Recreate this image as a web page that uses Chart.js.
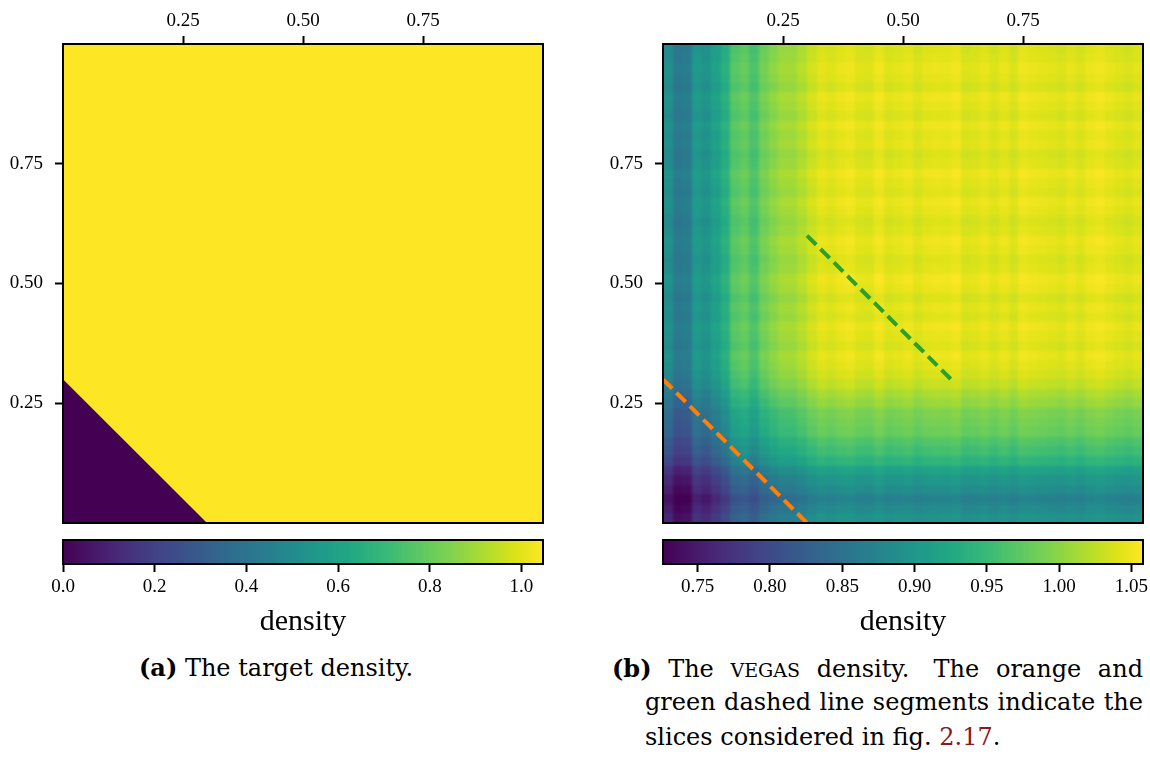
<!DOCTYPE html>
<html>
<head>
<meta charset="utf-8">
<title>VEGAS density</title>
<script src="https://cdn.jsdelivr.net/npm/chart.js@4.4.1/dist/chart.umd.min.js"></script>
<style>
  body { margin: 0; background: #fff; width: 1150px; height: 761px; position: relative; overflow: hidden; }
  canvas { position: absolute; }
  .cap { position: absolute; font-family: "DejaVu Serif", serif; font-size: 24px; line-height: 35px; color: #000; white-space: nowrap; }
  .line { display: flex; justify-content: space-between; align-items: baseline; height: 35px; }
  .sc { font-variant: small-caps; font-size: 1.15em; }
  .ref { color: #8b1a1a; }
</style>
</head>
<body>
<canvas id="mapA" width="550" height="530" style="left:0;top:0"></canvas>
<canvas id="mapB" width="550" height="530" style="left:600px;top:0"></canvas>
<canvas id="barA" width="550" height="120" style="left:0;top:530px"></canvas>
<canvas id="barB" width="550" height="120" style="left:600px;top:530px"></canvas>

<div class="cap" style="left:139px;top:650px"><b>(a)</b> The target density.</div>
<div class="cap line" style="left:612px;top:650px;width:531px">
  <span><b>(b)</b></span><span>The</span><span class="sc">vegas</span><span>density.&nbsp;</span><span>The</span><span>orange</span><span>and</span>
</div>
<div class="cap line" style="left:645px;top:685px;width:498px">
  <span>green</span><span>dashed</span><span>line</span><span>segments</span><span>indicate</span><span>the</span>
</div>
<div class="cap" style="left:645px;top:720px">slices considered in fig. <span class="ref">2.17</span>.</div>

<script>
// ---- axes ----
const axisTicks = [0.25, 0.5, 0.75];
const barTicksA = [0, 0.2, 0.4, 0.6, 0.8, 1.0];
const barTicksB = [0.75, 0.8, 0.85, 0.9, 0.95, 1.0, 1.05];
const rangeA = [0, 1.047];
const rangeB = [0.726, 1.058];

// ---- target density: 0 below the cut x + y = 0.3, normalised constant above ----
const targetCutX = [0, 0.3];
const targetCutY = [0.3, 0];
const targetLow = 0;
const targetHigh = 1.047;

// ---- vegas grid: per-bin marginal densities, 50 bins on [0, 1] ----
const vegasX = [
  0.875, 0.848, 0.852, 0.89, 0.88, 0.9, 0.92, 0.955, 0.963, 0.948,
  0.972, 0.985, 0.995, 0.995, 1.005, 1.018, 1.028, 1.024, 1.03, 1.033,
  1.025, 1.024, 1.034, 1.024, 1.027, 1.031, 1.023, 1.029, 1.031, 1.03,
  1.034, 1.023, 1.025, 1.03, 1.023, 1.03, 1.022, 1.033, 1.03, 1.028,
  1.026, 1.023, 1.029, 1.023, 1.031, 1.034, 1.029, 1.025, 1.022, 1.027
];
const vegasY = [
  0.87, 0.86, 0.848, 0.864, 0.875, 0.89, 0.915, 0.93, 0.94, 0.955,
  0.96, 0.965, 0.978, 0.988, 1.0, 1.008, 1.014, 1.019, 1.011, 1.016,
  1.02, 1.012, 1.017, 1.01, 1.018, 1.022, 1.014, 1.011, 1.017, 1.02,
  1.013, 1.01, 1.016, 1.02, 1.012, 1.016, 1.021, 1.013, 1.01, 1.017,
  1.014, 1.02, 1.011, 1.016, 1.02, 1.01, 1.015, 1.018, 1.013, 1.011
];

// ---- slices marked on the vegas panel ----
const orangeX = [0, 0.3];
const orangeY = [0.3, 0];
const greenX = [0.3, 0.6];
const greenY = [0.6, 0.3];

// viridis stops [position, colour]
const VIRIDIS = [
  [0, '#440154'], [0.05, '#471265'], [0.1, '#482475'], [0.111, '#482878'],
  [0.2, '#414487'], [0.222, '#3e4989'], [0.3, '#355f8d'], [0.333, '#31688e'],
  [0.4, '#2a788e'], [0.444, '#26828e'], [0.5, '#21918c'], [0.556, '#1f9e89'],
  [0.6, '#22a884'], [0.667, '#35b779'], [0.7, '#44bf70'], [0.778, '#6ece58'],
  [0.8, '#7ad151'], [0.889, '#b5de2b'], [0.9, '#bddf26'], [0.95, '#dfe318'],
  [1, '#fde725']
];

function hexRgb(h) {
  return [1, 3, 5].map(i => parseInt(h.substr(i, 2), 16));
}

function viridis(v, range) {
  let t = (v - range[0]) / (range[1] - range[0]);
  t = Math.max(0, Math.min(1, t));
  for (let k = 1; k < VIRIDIS.length; k++) {
    if (t <= VIRIDIS[k][0]) {
      const [p0, c0] = VIRIDIS[k - 1];
      const [p1, c1] = VIRIDIS[k];
      const f = (t - p0) / (p1 - p0);
      const a = hexRgb(c0), b = hexRgb(c1);
      const rgb = a.map((x, i) => Math.round(x + (b[i] - x) * f));
      return `rgb(${rgb.join(',')})`;
    }
  }
  return VIRIDIS[VIRIDIS.length - 1][1];
}

// vegas density is the product of the two marginals
const vegasCells = [];
vegasX.forEach((fx, i) => {
  vegasY.forEach((fy, j) => {
    vegasCells.push({
      x0: i / vegasX.length, x1: (i + 1) / vegasX.length,
      y0: j / vegasY.length, y1: (j + 1) / vegasY.length,
      v: fx * fy
    });
  });
});

// ---- plugins ----
const heatCells = {
  id: 'heatCells',
  beforeDatasetsDraw(chart, args, opts) {
    if (!opts.cells) return;
    const { ctx, chartArea: a, scales: { x, y } } = chart;
    const off = document.createElement('canvas');
    off.width = chart.width;
    off.height = chart.height;
    const oc = off.getContext('2d');
    opts.cells.forEach(c => {
      let l = Math.round(x.getPixelForValue(c.x0));
      let r = Math.round(x.getPixelForValue(c.x1));
      let t = Math.round(y.getPixelForValue(c.y1));
      let b = Math.round(y.getPixelForValue(c.y0));
      if (c.x0 <= x.min) l -= 8;
      if (c.x1 >= x.max) r += 8;
      if (c.y0 <= y.min) b += 8;
      if (c.y1 >= y.max) t -= 8;
      oc.fillStyle = viridis(c.v, opts.range);
      oc.fillRect(l, t, r - l, b - t);
    });
    ctx.save();
    ctx.beginPath();
    ctx.rect(a.left, a.top, a.right - a.left, a.bottom - a.top);
    ctx.clip();
    ctx.filter = `blur(${opts.blur || 0}px)`;
    ctx.drawImage(off, 0, 0);
    ctx.restore();
  }
};

const colorStrip = {
  id: 'colorStrip',
  beforeDatasetsDraw(chart, args, opts) {
    if (!opts.range) return;
    const { ctx, chartArea: a, scales: { x } } = chart;
    const n = 256;
    for (let k = 0; k < n; k++) {
      const v0 = x.min + (x.max - x.min) * k / n;
      const v1 = x.min + (x.max - x.min) * (k + 1) / n;
      const l = Math.floor(x.getPixelForValue(v0));
      const r = Math.ceil(x.getPixelForValue(v1));
      ctx.fillStyle = viridis((v0 + v1) / 2, opts.range);
      ctx.fillRect(l, a.top, r - l, a.bottom - a.top);
    }
  }
};

const frameBox = {
  id: 'frameBox',
  afterDatasetsDraw(chart) {
    const { ctx, chartArea: a } = chart;
    ctx.save();
    ctx.strokeStyle = '#000';
    ctx.lineWidth = 2;
    ctx.strokeRect(a.left, a.top, a.right - a.left, a.bottom - a.top);
    ctx.restore();
  }
};

const tickFont = { family: 'Liberation Serif', size: 19 };
const tickGrid = { drawOnChartArea: false, drawTicks: true, tickLength: 8, tickWidth: 2, tickColor: '#000' };

// fixed axis boxes so the plot squares line up
function fixHeight(h) {
  return s => { s.height = h; s.paddingLeft = 0; s.paddingRight = 0; };
}
function fixWidth(w) {
  return s => { s.width = w; s.paddingTop = 0; s.paddingBottom = 0; };
}

function heatmapChart(id, datasets, cellOpts) {
  return new Chart(document.getElementById(id), {
    type: 'scatter',
    data: { datasets },
    options: {
      responsive: false,
      animation: false,
      events: [],
      layout: { padding: { left: 0, top: 0, right: 7, bottom: 7 } },
      plugins: { legend: { display: false }, tooltip: { enabled: false }, heatCells: cellOpts },
      scales: {
        x: {
          type: 'linear', position: 'top', min: 0, max: 1,
          afterBuildTicks: s => { s.ticks = axisTicks.map(v => ({ value: v })); },
          afterFit: fixHeight(44),
          grid: tickGrid,
          border: { display: false },
          ticks: { color: '#000', font: tickFont, padding: 4, maxRotation: 0, callback: v => v.toFixed(2) }
        },
        y: {
          type: 'linear', position: 'left', min: 0, max: 1,
          afterBuildTicks: s => { s.ticks = axisTicks.map(v => ({ value: v })); },
          afterFit: fixWidth(63),
          grid: tickGrid,
          border: { display: false },
          ticks: { color: '#000', font: tickFont, padding: 12, callback: v => v.toFixed(2) }
        }
      }
    },
    plugins: [heatCells, frameBox]
  });
}

function colorbarChart(id, range, ticks, digits) {
  return new Chart(document.getElementById(id), {
    type: 'scatter',
    data: { datasets: [] },
    options: {
      responsive: false,
      animation: false,
      events: [],
      layout: { padding: { left: 63, top: 10, right: 7, bottom: 0 } },
      plugins: { legend: { display: false }, tooltip: { enabled: false }, colorStrip: { range } },
      scales: {
        x: {
          type: 'linear', position: 'bottom', min: range[0], max: range[1],
          afterBuildTicks: s => { s.ticks = ticks.map(v => ({ value: v })); },
          afterFit: fixHeight(86),
          grid: tickGrid,
          border: { display: false },
          ticks: { color: '#000', font: tickFont, padding: 4, maxRotation: 0, callback: v => v.toFixed(digits) },
          title: {
            display: true, text: 'density', color: '#000',
            font: { family: 'Liberation Serif', size: 30 },
            padding: { top: 0, bottom: 10 }
          }
        },
        y: { display: false, min: 0, max: 1 }
      }
    },
    plugins: [colorStrip, frameBox]
  });
}

// (a) target density: full square at the high value, triangle at the low value
heatmapChart('mapA', [
  {
    data: targetCutX.map((x, i) => ({ x, y: targetCutY[i] })),
    showLine: true, fill: 'origin', borderWidth: 0, pointRadius: 0,
    backgroundColor: viridis(targetLow, rangeA)
  },
  {
    data: [{ x: 0, y: 1 }, { x: 1, y: 1 }],
    showLine: true, fill: 'origin', borderWidth: 0, pointRadius: 0,
    backgroundColor: viridis(targetHigh, rangeA)
  }
], {});

// (b) vegas density with the two slices
heatmapChart('mapB', [
  {
    data: orangeX.map((x, i) => ({ x, y: orangeY[i] })),
    showLine: true, borderColor: '#ff7f0e', borderWidth: 4, borderDash: [13, 6],
    borderCapStyle: 'butt', pointRadius: 0, fill: false
  },
  {
    data: greenX.map((x, i) => ({ x, y: greenY[i] })),
    showLine: true, borderColor: '#2ca02c', borderWidth: 4, borderDash: [13, 6],
    borderCapStyle: 'butt', pointRadius: 0, fill: false
  }
], { cells: vegasCells, range: rangeB, blur: 1.5 });

colorbarChart('barA', rangeA, barTicksA, 1);
colorbarChart('barB', rangeB, barTicksB, 2);
</script>
</body>
</html>
